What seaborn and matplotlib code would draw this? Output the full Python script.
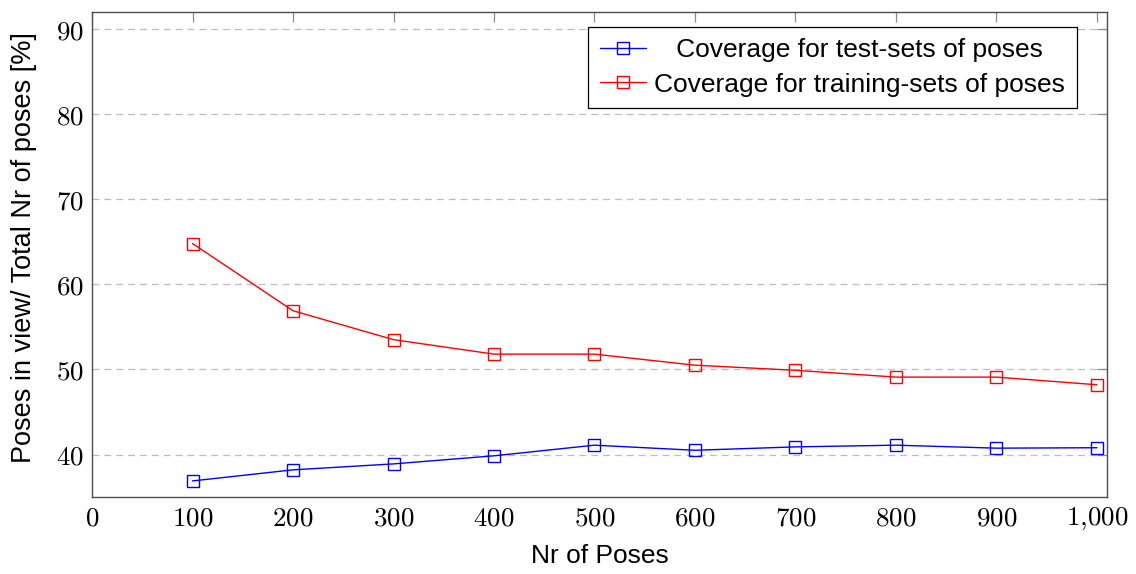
import matplotlib
matplotlib.use("Agg")
import matplotlib.pyplot as plt
import seaborn as sns
import pandas as pd
from matplotlib.ticker import FixedLocator, FixedFormatter

# Number of poses in each set
n_poses = [100, 200, 300, 400, 500, 600, 700, 800, 900, 1000]
# Coverage (%) for the test sets and the training sets
test_cov = [36.9, 38.2, 38.9, 39.85, 41.1, 40.5, 40.9, 41.1, 40.75, 40.8]
train_cov = [64.8, 56.9, 53.5, 51.8, 51.8, 50.5, 49.9, 49.1, 49.1, 48.2]
series_labels = ["   Coverage for test-sets of poses",
                 "Coverage for training-sets of poses"]
x_ticks = [0, 100, 200, 300, 400, 500, 600, 700, 800, 900, 1000]
x_tick_labels = ["0", "100", "200", "300", "400", "500", "600", "700",
                 "800", "900", "1,000"]
y_ticks = [40, 50, 60, 70, 80, 90]

sns.set_theme(style="white")
plt.rcParams["font.family"] = ["Liberation Sans", "DejaVu Sans"]
plt.rcParams["mathtext.fontset"] = "cm"
plt.rcParams["text.color"] = "black"
plt.rcParams["axes.labelcolor"] = "black"

fig = plt.figure(figsize=(11.36, 5.74), dpi=100)
ax = fig.add_axes([0.081, 0.134, 0.8935, 0.845])

df = pd.DataFrame({"poses": n_poses, "test": test_cov, "train": train_cov})

line_kw = dict(marker="s", markersize=8, markerfacecolor="none",
               markeredgewidth=1.0, linewidth=1.0)
sns.lineplot(data=df, x="poses", y="test", ax=ax, color="#0000ff",
             markeredgecolor="#0000ff", label=series_labels[0], **line_kw)
sns.lineplot(data=df, x="poses", y="train", ax=ax, color="#ff0000",
             markeredgecolor="#ff0000", label=series_labels[1], **line_kw)

ax.set_xlim(0, 1010)
ax.set_ylim(35, 92)

ax.xaxis.set_major_locator(FixedLocator(x_ticks))
ax.xaxis.set_major_formatter(FixedFormatter(
    ["$" + t.replace(",", "{,}") + "$" for t in x_tick_labels]))
ax.yaxis.set_major_locator(FixedLocator(y_ticks))
ax.yaxis.set_major_formatter(FixedFormatter(["$%d$" % v for v in y_ticks]))

ax.tick_params(axis="both", which="major", direction="in", length=7.5,
               width=0.9, color="#8c8c8c", labelsize=19.5, pad=6,
               top=True, right=True, labelcolor="black")

ax.yaxis.grid(True, color="#bdbdbd", linewidth=0.9, linestyle=(0, (5.5, 4.0)))
ax.xaxis.grid(False)
ax.set_axisbelow(True)

for sp in ax.spines.values():
    sp.set_visible(True)
    sp.set_color("#4d4d4d")
    sp.set_linewidth(1.0)

ax.set_xlabel("Nr of Poses", fontsize=19, labelpad=9, color="black")
ax.set_ylabel("Poses in view/ Total Nr of poses [%]", fontsize=19.5,
              color="black")
ax.yaxis.set_label_coords(-0.054, 0.515)

leg = ax.legend(loc="upper right", bbox_to_anchor=(0.9705, 0.97),
                fontsize=19, frameon=True, fancybox=False, shadow=False,
                framealpha=1.0, edgecolor="black", handlelength=1.75,
                handletextpad=0.3, borderpad=0.45, labelspacing=0.38,
                borderaxespad=0.0)
leg.get_frame().set_linewidth(0.9)
for t in leg.get_texts():
    t.set_color("black")

fig.savefig("out.png", dpi=100)
